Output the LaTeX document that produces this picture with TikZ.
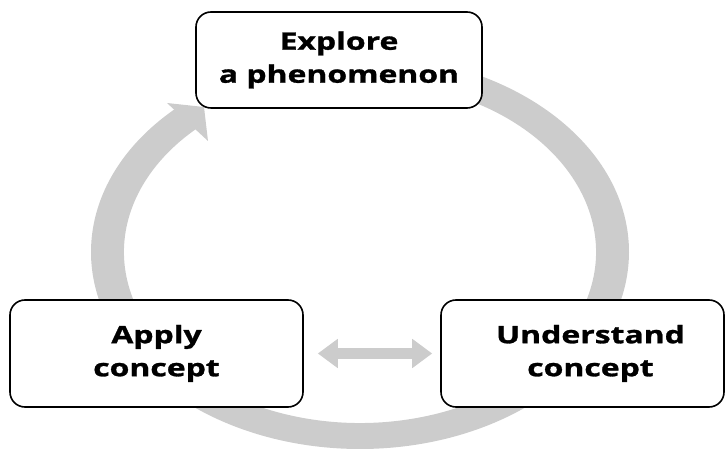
\documentclass[tikz,border=0pt]{standalone}
\usepackage{fontspec}
\setmainfont{Open Sans}[FakeStretch=1.33, BoldFeatures={FakeBold=1.2}]
\usetikzlibrary{arrows.meta}
\definecolor{bandgray}{RGB}{204,204,204}
\begin{document}
\begin{tikzpicture}[x=1pt,y=1pt,
  stagebox/.style={draw=black, line width=1.6pt, rounded corners=15pt,
    fill=white, align=center, inner sep=0pt,
    font=\bfseries\fontsize{24}{33}\selectfont},
  cyclearrow/.style={fill=bandgray, draw=none}]
\useasboundingbox (0,0) rectangle (726,450);

% the cycle: an elliptical band running round behind the boxes
\fill[cyclearrow, shift={(360,198)}]
  (132:269 and 197)
  arc[start angle=132, end angle=430, x radius=269, y radius=197]
  -- (430:236 and 171)
  arc[start angle=430, end angle=132, x radius=236, y radius=171]
  -- cycle;
% its head, pointing at the top box
\fill[cyclearrow] (167,347) -- (204,343) -- (208,309) -- cycle;

% the three stages
\node[stagebox, minimum width=286pt, minimum height=96pt] (explore)
  at (339,390) {Explore\\a phenomenon};
\node[stagebox, minimum width=293pt, minimum height=107pt] (apply)
  at (156.5,96.5) {Apply\\concept};
\node[stagebox, minimum width=283pt, minimum height=107pt] (understand)
  at (582.5,96.5) {\hspace*{16pt}Understand\\\hspace*{16pt}concept};

% two-way link between applying and understanding
\draw[bandgray, line width=11pt,
  {Triangle[length=20pt,width=28pt]}-{Triangle[length=20pt,width=28pt]},
  shorten <=14pt, shorten >=8pt] (apply) -- (understand);
\end{tikzpicture}
\end{document}
